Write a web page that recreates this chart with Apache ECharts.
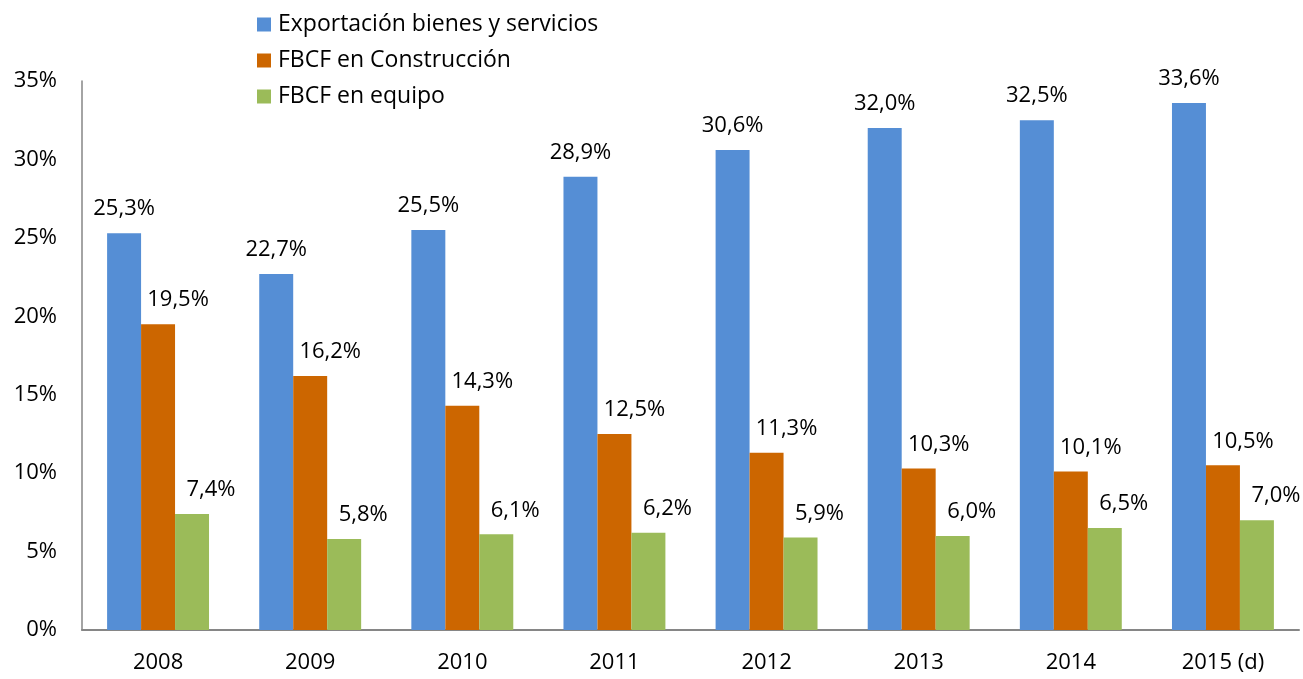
<!DOCTYPE html>
<html>
<head>
<meta charset="utf-8">
<script src="https://cdn.jsdelivr.net/npm/echarts@6/dist/echarts.min.js"></script>
<style>
  html, body { margin: 0; padding: 0; background: #fff; }
  #chart { width: 1303px; height: 679px; }
</style>
</head>
<body>
<div id="chart"></div>
<script>
// datos
const years = ['2008', '2009', '2010', '2011', '2012', '2013', '2014', '2015 (d)']
const exportacion = [25.3, 22.7, 25.5, 28.9, 30.6, 32.0, 32.5, 33.6]
const construccion = [19.5, 16.2, 14.3, 12.5, 11.3, 10.3, 10.1, 10.5]
const equipo = [7.4, 5.8, 6.1, 6.2, 5.9, 6.0, 6.5, 7.0]
const seriesNames = ['Exportación bienes y servicios', 'FBCF en Construcción', 'FBCF en equipo']
const colors = ['#558ed5', '#cc6600', '#9bbb59']

const font = '"Open Sans", sans-serif'
const chart = echarts.init(document.getElementById('chart'))

const fmt = (v) => v.toFixed(1).replace('.', ',') + '%'

// las etiquetas naranja y verde van corridas a la derecha, como en el original
const makeSeries = (name, data, color, dx) => ({
  name: name,
  type: 'bar',
  data: data,
  barGap: '0%',
  barCategoryGap: '33%',
  itemStyle: { color: color },
  label: {
    show: true,
    position: 'top',
    distance: 13,
    offset: [dx, 0],
    color: '#000',
    fontFamily: font,
    fontSize: 22,
    formatter: (p) => fmt(p.value)
  }
})

chart.setOption({
  animation: false,
  backgroundColor: '#fff',
  grid: {
    left: 82,
    right: 4,
    top: 81,
    bottom: 49
  },
  legend: {
    orient: 'vertical',
    left: 252,
    top: 8,
    icon: 'rect',
    itemWidth: 14,
    itemHeight: 14,
    itemGap: 13,
    textStyle: { color: '#000', fontFamily: font, fontSize: 23, padding: [0, 0, 0, 2] },
    data: seriesNames
  },
  xAxis: {
    type: 'category',
    data: years,
    axisLine: { show: true, lineStyle: { color: '#868686', width: 2 } },
    axisTick: { show: false },
    axisLabel: { color: '#000', fontFamily: font, fontSize: 22, margin: 22 }
  },
  yAxis: {
    type: 'value',
    min: 0,
    max: 35,
    interval: 5,
    axisLine: { show: true, lineStyle: { color: '#868686', width: 1.5 } },
    axisTick: { show: false },
    splitLine: { show: false },
    axisLabel: {
      color: '#000',
      fontFamily: font,
      fontSize: 22,
      margin: 25,
      formatter: '{value}%'
    }
  },
  series: [
    makeSeries(seriesNames[0], exportacion, colors[0], 0),
    makeSeries(seriesNames[1], construccion, colors[1], 20),
    makeSeries(seriesNames[2], equipo, colors[2], 19)
  ]
})
</script>
</body>
</html>
